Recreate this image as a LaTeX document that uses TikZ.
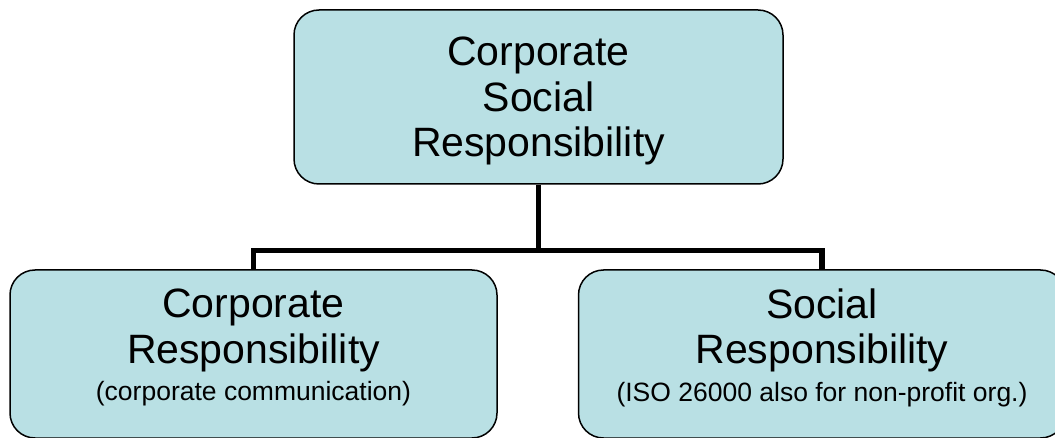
\documentclass[tikz,border=0pt]{standalone}
\usepackage{fontspec}
\setmainfont{Liberation Sans}
\usepackage{xcolor}
\usetikzlibrary{calc}
\definecolor{boxfill}{RGB}{185,224,228}
\tikzset{
	orgbox/.style={draw=black, line width=1.5pt, fill=boxfill, rounded corners=25pt, align=center, inner sep=0pt, font=\fontsize{41}{45.5}\selectfont},
	conn/.style={line width=5.5pt, black}
}
\begin{document}
\begin{tikzpicture}[x=1pt, y=-1pt]
	\useasboundingbox (0,0) rectangle (1055,438);
	\node[orgbox, minimum width=489pt, minimum height=174pt, text depth=0pt] (csr) at (538.5,97) {Corporate\\Social\\Responsibility};
	\node[orgbox, minimum width=487pt, minimum height=168pt, text depth=18pt] (cr) at (253.5,354) {Corporate\\Responsibility\\[-8pt]{\fontsize{26.5}{30}\selectfont (corporate communication)}};
	\node[orgbox, minimum width=487pt, minimum height=168pt, text depth=18pt] (sr) at (822,354) {Social\\Responsibility\\[-8pt]{\fontsize{26.5}{30}\selectfont (ISO 26000 also for non-profit org.)}};
	\coordinate (fork) at ($(csr.south)+(0,66)$);
	\draw[conn] (csr.south) -- (fork);
	\draw[conn] (fork) -| (cr.north);
	\draw[conn] (fork) -| (sr.north);
\end{tikzpicture}
\end{document}
